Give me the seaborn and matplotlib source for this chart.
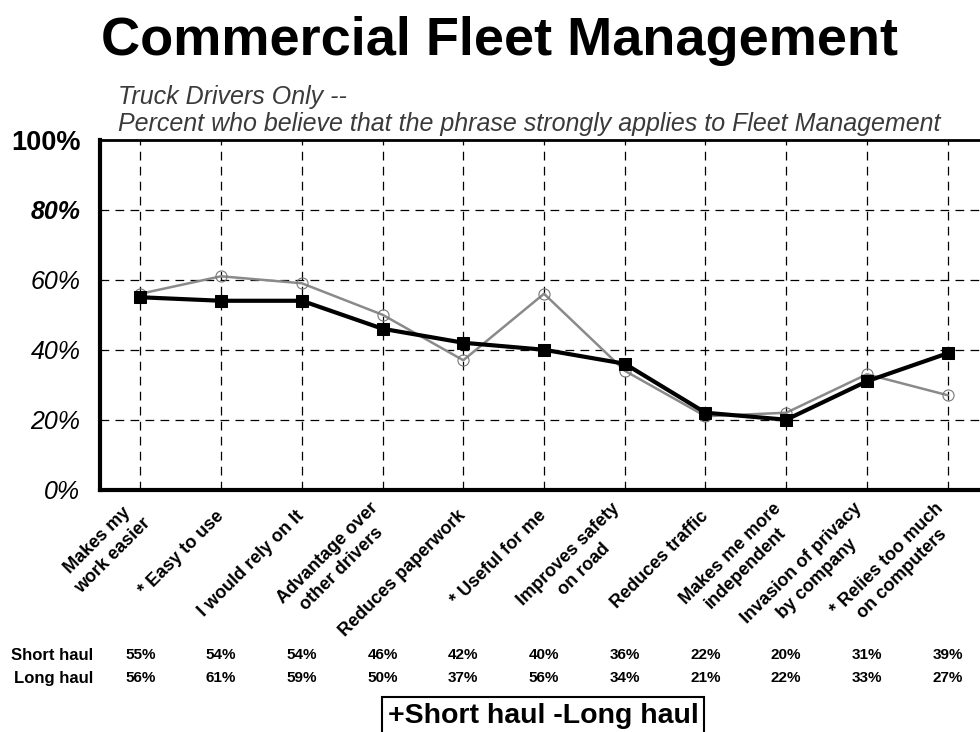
import pandas as pd
import matplotlib.pyplot as plt
import seaborn as sns

# phrases on the x axis
categories = ['Makes my\nwork easier', '* Easy to use', 'I would rely on It',
              'Advantage over\nother drivers', 'Reduces paperwork', '* Useful for me',
              'Improves safety\non road', 'Reduces traffic', 'Makes me more\nindependent',
              'Invasion of privacy\nby company', '* Relies too much\non computers']
short_haul = [55, 54, 54, 46, 42, 40, 36, 22, 20, 31, 39]
long_haul = [56, 61, 59, 50, 37, 56, 34, 21, 22, 33, 27]
y_ticks = [0, 20, 40, 60, 80, 100]
y_labels = ['0%', '20%', '40%', '60%', '80%', '100%']

df = pd.DataFrame({'x': range(len(categories)), 'short': short_haul, 'long': long_haul})

sns.set_style('white')
plt.rcParams['font.family'] = ['Liberation Sans', 'DejaVu Sans']
plt.rcParams['text.color'] = 'black'
plt.rcParams['xtick.color'] = 'black'
plt.rcParams['ytick.color'] = 'black'
plt.rcParams['axes.edgecolor'] = 'black'

fig = plt.figure(figsize=(9.8, 7.32), dpi=100)
ax = fig.add_axes([0.102, 0.331, 0.898, 0.478])

# grid first so lines sit on top
for i in range(len(categories)):
    ax.axvline(i, color='black', lw=0.9, ls=(0, (7, 5)), zorder=1)
for v in y_ticks[1:-1]:
    ax.axhline(v, color='black', lw=0.9, ls=(0, (7, 5)), zorder=1)

sns.lineplot(data=df, x='x', y='long', ax=ax, color='#8a8a8a', lw=1.8,
             marker='o', markersize=8, markerfacecolor='none',
             markeredgecolor='#777777', markeredgewidth=0.8, zorder=3)
sns.lineplot(data=df, x='x', y='short', ax=ax, color='black', lw=3,
             marker='s', markersize=9, markerfacecolor='black',
             markeredgecolor='black', zorder=4)

ax.set_xlim(-0.5, 10.4)
ax.set_ylim(0, 100)
ax.set_xlabel('')
ax.set_ylabel('')

for side in ['left', 'bottom']:
    ax.spines[side].set_linewidth(3)
ax.spines['top'].set_linewidth(2)
ax.spines['right'].set_visible(False)

ax.set_xticks(range(len(categories)))
ax.set_xticklabels(categories, rotation=45, ha='right', va='center',
                   rotation_mode='anchor', fontsize=13, fontweight='bold',
                   multialignment='center', linespacing=1.3)
ax.tick_params(axis='x', direction='in', length=6, width=1, color='black', pad=17)

ax.set_yticks(y_ticks)
ax.set_yticklabels(y_labels, fontsize=18)
ax.tick_params(axis='y', length=0, pad=14)
for lab in ax.get_yticklabels():
    t = lab.get_text()
    if t == '100%':
        lab.set_fontweight('bold')
        lab.set_fontsize(19.5)
    elif t == '80%':
        lab.set_fontweight('bold')
        lab.set_fontstyle('italic')
    else:
        lab.set_fontstyle('italic')

fig.text(0.51, 0.944, 'Commercial Fleet Management', ha='center', va='center',
         fontsize=39, fontweight='bold')
fig.text(0.12, 0.868, 'Truck Drivers Only --', fontsize=18, style='italic',
         color='#3a3a3a', va='center')
fig.text(0.12, 0.831, 'Percent who believe that the phrase strongly applies to Fleet Management',
         fontsize=18, style='italic', color='#3a3a3a', va='center')

# value table under the chart
trans = ax.get_xaxis_transform()
fig.text(0.095, 1 - 655 / 732, 'Short haul', ha='right', va='center',
         fontsize=12, fontweight='bold')
fig.text(0.095, 1 - 678 / 732, 'Long haul', ha='right', va='center',
         fontsize=12, fontweight='bold')
for i in range(len(categories)):
    ax.text(i, -0.471, f'{short_haul[i]}%', transform=trans, ha='center', va='center',
            fontsize=11, fontweight='bold')
    ax.text(i, -0.537, f'{long_haul[i]}%', transform=trans, ha='center', va='center',
            fontsize=11, fontweight='bold')

fig.text(0.554, 1 - 716 / 732, '+Short haul -Long haul', ha='center', va='center',
         fontsize=20.5, fontweight='bold',
         bbox=dict(boxstyle='square,pad=0.2', fc='white', ec='black', lw=1.5))

plt.savefig('out.png', dpi=100)
